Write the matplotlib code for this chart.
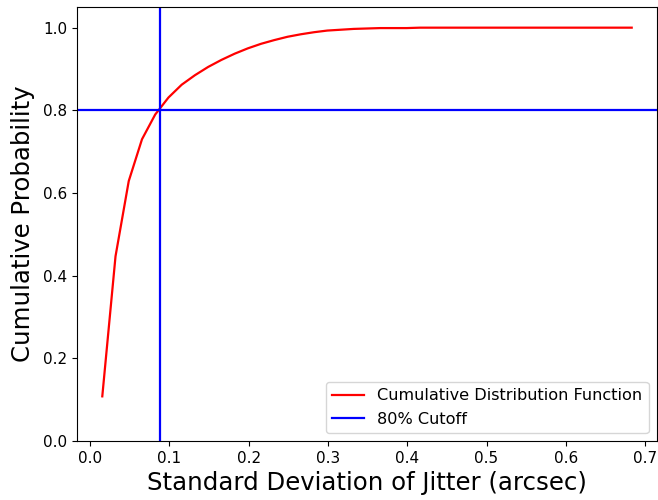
import numpy as np
import matplotlib.pyplot as plt

# jitter std dev bin centres (arcsec) and cumulative probability
sigma = np.linspace(0.0155, 0.683, 41)
cdf = [0.108, 0.447, 0.629, 0.730, 0.790, 0.831, 0.862, 0.885, 0.905, 0.922,
       0.937, 0.950, 0.961, 0.970, 0.978, 0.984, 0.989, 0.993, 0.995, 0.997,
       0.998, 0.999, 0.999, 0.999, 1.0, 1.0, 1.0, 1.0, 1.0, 1.0,
       1.0, 1.0, 1.0, 1.0, 1.0, 1.0, 1.0, 1.0, 1.0, 1.0, 1.0]
cutoff_sigma = 0.088
cutoff_prob = 0.8

fig, ax = plt.subplots(figsize=(6.58, 5.0), dpi=100)

ax.plot(sigma, cdf, 'r', lw=1.6, label='Cumulative Distribution Function')
ax.axvline(cutoff_sigma, color='b', lw=1.6, label='80% Cutoff')
ax.axhline(cutoff_prob, color='b', lw=1.6)

ax.set(xlim=(-0.0164, 0.7145), ylim=(0, 1.05))
ax.set_xticks(np.arange(0, 0.71, 0.1))
ax.set_yticks(np.arange(0, 1.01, 0.2))
ax.tick_params(labelsize=11)
ax.set_xlabel('Standard Deviation of Jitter (arcsec)', fontsize=17.6)
ax.set_ylabel('Cumulative Probability', fontsize=17.6, labelpad=6)

ax.legend(loc='lower right', fontsize=11.6)

plt.subplots_adjust(left=0.117, right=0.998, top=0.986, bottom=0.118)
plt.savefig('out.png')
